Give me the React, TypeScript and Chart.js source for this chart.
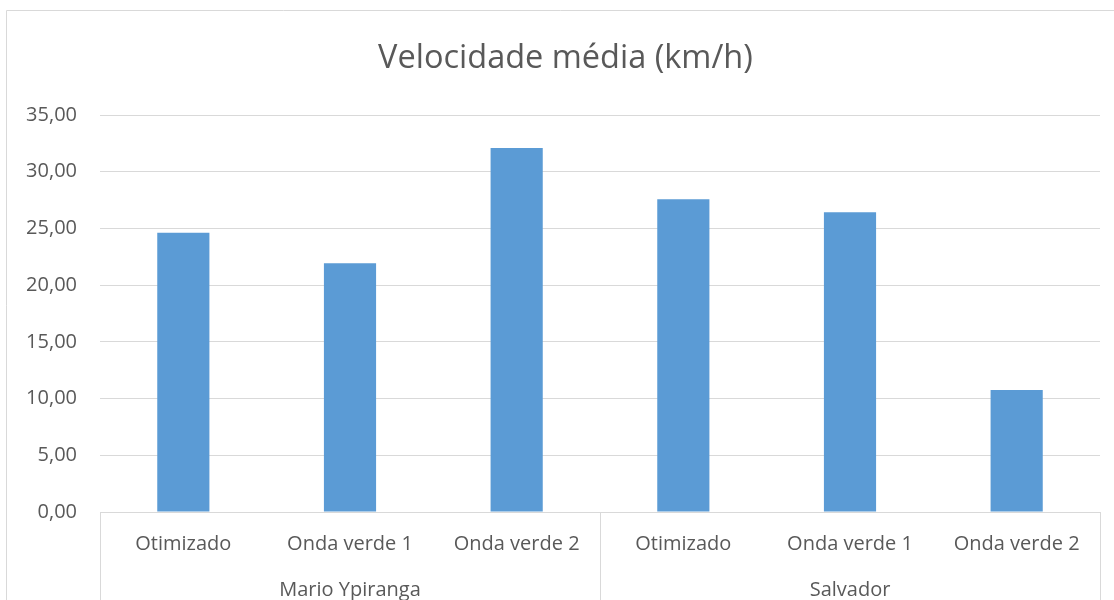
import React, { useEffect, useRef } from "react";
import { Chart, registerables } from "chart.js";

Chart.register(...registerables);

const chartTitle = "Velocidade média (km/h)";
const categories = ["Otimizado", "Onda verde 1", "Onda verde 2", "Otimizado", "Onda verde 1", "Onda verde 2"];
const groups = ["Mario Ypiranga", "Salvador"];
const groupSizes = [3, 3];
const values = [24.63, 21.93, 32.1, 27.57, 26.43, 10.76];
const yTickValues = [0, 5, 10, 15, 20, 25, 30, 35];
const yTickLabels = ["0,00", "5,00", "10,00", "15,00", "20,00", "25,00", "30,00", "35,00"];

const FONT = "'Open Sans', 'Noto Sans', sans-serif";
const TEXT = "#595959";
const LINE = "#d9d9d9";
const BAR = "#5b9bd5";

const groupAxisPlugin = {
  id: "groupAxis",
  afterDraw(chart: any) {
    const ctx = chart.ctx;
    const x = chart.scales.x;
    const bottom = chart.height;
    ctx.save();
    // outer chart border
    ctx.strokeStyle = LINE;
    ctx.lineWidth = 1;
    ctx.beginPath();
    ctx.moveTo(6.5, bottom + 2);
    ctx.lineTo(6.5, 10.5);
    ctx.lineTo(chart.width + 2, 10.5);
    ctx.stroke();
    // title, centred over the chart frame (which extends past the right edge)
    ctx.fillStyle = TEXT;
    ctx.font = `32.5px ${FONT}`;
    ctx.textAlign = "center";
    ctx.textBaseline = "middle";
    ctx.fillText(chartTitle, (chart.chartArea.right + 31) / 2, 58.5);
    // group separators and labels
    let start = 0;
    const boundaries: number[] = [-0.5];
    groupSizes.forEach((n) => {
      boundaries.push(start + n - 0.5);
      start += n;
    });
    boundaries.forEach((b) => {
      const px = Math.round(x.getPixelForValue(b)) + 0.5;
      ctx.beginPath();
      ctx.moveTo(px, x.top);
      ctx.lineTo(px, bottom + 2);
      ctx.stroke();
    });
    ctx.font = `20px ${FONT}`;
    start = 0;
    groups.forEach((g, i) => {
      const a = x.getPixelForValue(start - 0.5);
      const b = x.getPixelForValue(start + groupSizes[i] - 0.5);
      ctx.fillText(g, (a + b) / 2, x.top + 78);
      start += groupSizes[i];
    });
    ctx.restore();
  },
};

export default function App() {
  const ref = useRef<HTMLCanvasElement | null>(null);
  useEffect(() => {
    if (!ref.current) return;
    const chart = new Chart(ref.current, {
      type: "bar",
      data: {
        labels: categories,
        datasets: [
          {
            data: values,
            backgroundColor: BAR,
            borderWidth: 0,
            barPercentage: 0.313,
            categoryPercentage: 1,
          },
        ],
      },
      options: {
        animation: false,
        responsive: true,
        maintainAspectRatio: false,
        layout: { padding: { left: 0, right: 14, top: 115, bottom: 0 } },
        plugins: {
          legend: { display: false },
          tooltip: { enabled: false },
          title: { display: false },
        },
        scales: {
          x: {
            grid: { display: false, drawTicks: false },
            border: { display: true, color: LINE, width: 1 },
            ticks: {
              color: TEXT,
              font: { family: FONT, size: 20 },
              padding: 20,
              maxRotation: 0,
              autoSkip: false,
            },
            afterFit(scale: any) {
              scale.height = 88;
            },
          },
          y: {
            min: 0,
            max: 35,
            afterBuildTicks(scale: any) {
              scale.ticks = yTickValues.map((v) => ({ value: v }));
            },
            grid: { color: LINE, lineWidth: 1, drawTicks: false },
            border: { display: false },
            ticks: {
              color: TEXT,
              font: { family: FONT, size: 20 },
              padding: 23,
              callback: (v: any) => yTickLabels[yTickValues.indexOf(Number(v))],
            },
            afterFit(scale: any) {
              scale.width = 100;
            },
          },
        },
      },
      plugins: [groupAxisPlugin],
    });
    return () => chart.destroy();
  }, []);
  return (
    <div style={{ position: "fixed", left: 0, top: 0, width: 1114, height: 600, background: "#fff" }}>
      <canvas ref={ref} />
    </div>
  );
}
